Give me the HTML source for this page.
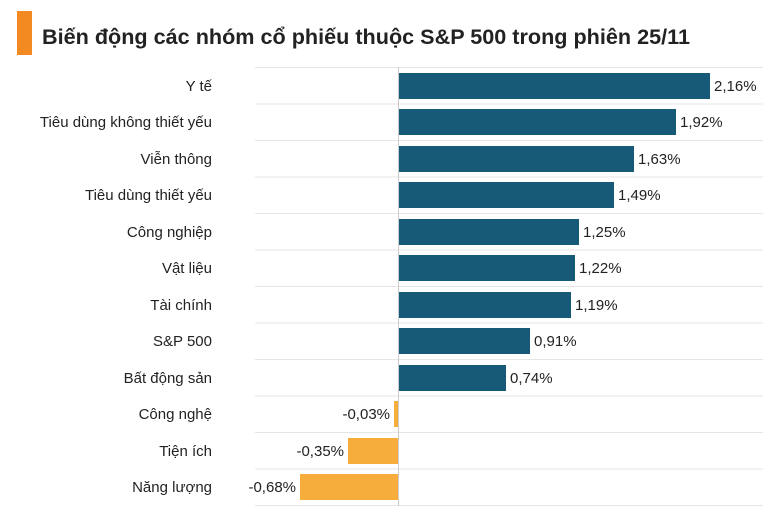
<!DOCTYPE html>
<html><head><meta charset="utf-8"><style>
body{margin:0;width:783px;height:509px;background:#fff;overflow:hidden;font-family:"Liberation Sans",sans-serif;}
</style></head><body>
<svg width="783" height="509" xmlns="http://www.w3.org/2000/svg" font-family="Liberation Sans, sans-serif">
<rect x="17" y="11" width="15" height="44" fill="#f28a21"/>
<text x="42" y="44" font-size="21" font-weight="bold" fill="#222" textLength="648" lengthAdjust="spacingAndGlyphs">Biến động các nhóm cổ phiếu thuộc S&amp;P 500 trong phiên 25/11</text>
<g stroke="#e6e6e6" stroke-width="1">
<line x1="255" x2="763" y1="67.5" y2="67.5"/><line x1="255" x2="763" y1="104" y2="104"/><line x1="255" x2="763" y1="140.5" y2="140.5"/><line x1="255" x2="763" y1="177" y2="177"/><line x1="255" x2="763" y1="213.5" y2="213.5"/><line x1="255" x2="763" y1="250" y2="250"/><line x1="255" x2="763" y1="286.5" y2="286.5"/><line x1="255" x2="763" y1="323" y2="323"/><line x1="255" x2="763" y1="359.5" y2="359.5"/><line x1="255" x2="763" y1="396" y2="396"/><line x1="255" x2="763" y1="432.5" y2="432.5"/><line x1="255" x2="763" y1="469" y2="469"/><line x1="255" x2="763" y1="505.5" y2="505.5"/>
</g>
<line x1="398.5" x2="398.5" y1="67" y2="506" stroke="#ccc"/>
<g font-size="15" fill="#222">
<g text-anchor="end">
<text x="212" y="91">Y tế</text>
<text x="212" y="127">Tiêu dùng không thiết yếu</text>
<text x="212" y="164">Viễn thông</text>
<text x="212" y="200">Tiêu dùng thiết yếu</text>
<text x="212" y="237">Công nghiệp</text>
<text x="212" y="273">Vật liệu</text>
<text x="212" y="310">Tài chính</text>
<text x="212" y="346">S&amp;P 500</text>
<text x="212" y="383">Bất động sản</text>
<text x="212" y="419">Công nghệ</text>
<text x="212" y="456">Tiện ích</text>
<text x="212" y="492">Năng lượng</text>
</g>
<g fill="#175a78">
<rect x="399" y="73" width="311" height="26"/>
<rect x="399" y="109" width="277" height="26"/>
<rect x="399" y="146" width="235" height="26"/>
<rect x="399" y="182" width="215" height="26"/>
<rect x="399" y="219" width="180" height="26"/>
<rect x="399" y="255" width="176" height="26"/>
<rect x="399" y="292" width="172" height="26"/>
<rect x="399" y="328" width="131" height="26"/>
<rect x="399" y="365" width="107" height="26"/>
</g>
<g fill="#f6ad3c">
<rect x="394" y="401" width="4" height="26"/>
<rect x="348" y="438" width="50" height="26"/>
<rect x="300" y="474" width="98" height="26"/>
</g>
<text x="714" y="91">2,16%</text>
<text x="680" y="127">1,92%</text>
<text x="638" y="164">1,63%</text>
<text x="618" y="200">1,49%</text>
<text x="583" y="237">1,25%</text>
<text x="579" y="273">1,22%</text>
<text x="575" y="310">1,19%</text>
<text x="534" y="346">0,91%</text>
<text x="510" y="383">0,74%</text>
<g text-anchor="end">
<text x="390" y="419">-0,03%</text>
<text x="344" y="456">-0,35%</text>
<text x="296" y="492">-0,68%</text>
</g>
</g>
</svg>
</body></html>
